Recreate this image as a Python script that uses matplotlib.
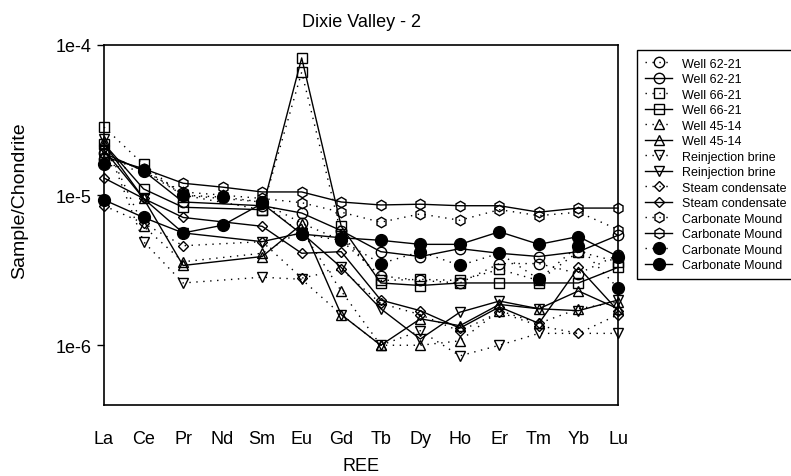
import numpy as np
import matplotlib
matplotlib.use("Agg")
import matplotlib.pyplot as plt
from matplotlib.ticker import FixedLocator, NullLocator

plt.rcParams['font.family'] = ['Liberation Sans', 'DejaVu Sans']

nan = np.nan
ree = ['La', 'Ce', 'Pr', 'Nd', 'Sm', 'Eu', 'Gd', 'Tb', 'Dy', 'Ho', 'Er', 'Tm', 'Yb', 'Lu']

w6221_dot = [1.75e-5, 1.5e-5, 1.0e-5, nan, 9.0e-6, 6.5e-6, 5.0e-6, 2.9e-6, 2.7e-6, 2.6e-6, 3.5e-6, 3.5e-6, 3.0e-6, 4.0e-6]
w6221_sol = [1.9e-5, 1.45e-5, 9.0e-6, nan, 8.5e-6, 7.6e-6, 5.8e-6, 4.2e-6, 3.9e-6, 4.4e-6, 4.1e-6, 3.9e-6, 4.2e-6, 5.4e-6]
w6621_dot = [2.84e-5, 1.6e-5, 1.0e-5, nan, 8.0e-6, 6.6e-5, 5.5e-6, 2.7e-6, 2.75e-6, 2.7e-6, 3.2e-6, 2.7e-6, 4.2e-6, 3.6e-6]
w6621_sol = [2.2e-5, 1.1e-5, 8.3e-6, nan, 8.0e-6, 8.2e-5, 6.2e-6, 2.6e-6, 2.5e-6, 2.6e-6, 2.6e-6, 2.6e-6, 2.6e-6, 3.3e-6]
w4514_dot = [2.3e-5, 6.2e-6, 3.6e-6, nan, 4.1e-6, 5.8e-6, 2.3e-6, 1.0e-6, 1.0e-6, 1.07e-6, 1.7e-6, 1.4e-6, 1.75e-6, 1.94e-6]
w4514_sol = [2.2e-5, 9.5e-6, 3.4e-6, nan, 3.9e-6, 6.4e-6, 1.6e-6, 1.0e-6, 1.5e-6, 1.35e-6, 1.87e-6, 1.75e-6, 2.3e-6, 1.75e-6]
brine_dot = [2.37e-5, 4.9e-6, 2.6e-6, nan, 2.84e-6, 2.75e-6, 1.6e-6, 1.0e-6, 1.25e-6, 8.5e-7, 1.0e-6, 1.2e-6, nan, 1.2e-6]
brine_sol = [2.0e-5, 9.5e-6, 5.6e-6, nan, 4.9e-6, 5.6e-6, 3.3e-6, 1.75e-6, 1.1e-6, 1.66e-6, 1.97e-6, 1.75e-6, 1.7e-6, 2.0e-6]
steam_dot = [8.5e-6, 6.5e-6, 4.6e-6, nan, 4.9e-6, 2.8e-6, 3.2e-6, 1.9e-6, 1.6e-6, 1.24e-6, 1.66e-6, 1.35e-6, 1.2e-6, 1.6e-6]
steam_sol = [1.3e-5, 9.5e-6, 7.1e-6, nan, 6.2e-6, 4.1e-6, 4.2e-6, 2.0e-6, 1.7e-6, 1.3e-6, 1.8e-6, 1.4e-6, 3.3e-6, 1.7e-6]
cmh_dot = [1.9e-5, 1.45e-5, 1.05e-5, 1.0e-5, 9.5e-6, 8.9e-6, 7.7e-6, 6.6e-6, 7.5e-6, 6.8e-6, 8.0e-6, 7.3e-6, 7.7e-6, 5.9e-6]
cmh_sol = [1.8e-5, 1.5e-5, 1.2e-5, 1.13e-5, 1.05e-5, 1.05e-5, 9.0e-6, 8.6e-6, 8.7e-6, 8.5e-6, 8.5e-6, 7.7e-6, 8.2e-6, 8.2e-6]
cmf_dot = [1.6e-5, 1.45e-5, 1.0e-5, 9.7e-6, 9.0e-6, 5.5e-6, 5.0e-6, 3.5e-6, 4.2e-6, 3.4e-6, 4.1e-6, 2.75e-6, 4.6e-6, 2.4e-6]
cmf_sol = [9.3e-6, 7.1e-6, 5.6e-6, 6.3e-6, 8.8e-6, 5.5e-6, 5.2e-6, 5.0e-6, 4.7e-6, 4.7e-6, 5.7e-6, 4.7e-6, 5.3e-6, 3.9e-6]

series = [
    ('Well 62-21', w6221_dot, 'o', True, False),
    ('Well 62-21', w6221_sol, 'o', False, False),
    ('Well 66-21', w6621_dot, 's', True, False),
    ('Well 66-21', w6621_sol, 's', False, False),
    ('Well 45-14', w4514_dot, '^', True, False),
    ('Well 45-14', w4514_sol, '^', False, False),
    ('Reinjection brine', brine_dot, 'v', True, False),
    ('Reinjection brine', brine_sol, 'v', False, False),
    ('Steam condensate', steam_dot, 'D', True, False),
    ('Steam condensate', steam_sol, 'D', False, False),
    ('Carbonate Mound', cmh_dot, 'h', True, False),
    ('Carbonate Mound', cmh_sol, 'h', False, False),
    ('Carbonate Mound', cmf_dot, 'o', True, True),
    ('Carbonate Mound', cmf_sol, 'o', False, True),
]

fig = plt.figure(figsize=(7.91, 4.77), dpi=100)
ax = fig.add_axes([104/791, 1-406/477, (618-104)/791, (406-46)/477])

x = np.arange(len(ree))
for name, vals, mk, dotted, filled in series:
    v = np.array(vals, dtype=float)
    ok = ~np.isnan(v)
    ls = (0, (1, 4)) if dotted else '-'
    ms = 5.5 if mk == 'D' else 7.5
    if filled:
        ms = 8.5
    ax.plot(x[ok], v[ok], linestyle=ls, color='black', lw=1,
            marker=mk, markersize=ms, markeredgecolor='black', markeredgewidth=1,
            markerfacecolor='black' if filled else 'none', label=name, clip_on=False)

ax.set_yscale('log')
ax.set_ylim(4e-7, 1e-4)
ax.set_xlim(0, 13)
ax.yaxis.set_major_locator(FixedLocator([1e-6, 1e-5, 1e-4]))
ax.yaxis.set_minor_locator(NullLocator())
ax.set_yticklabels(['1e-6', '1e-5', '1e-4'])
ax.set_xticks(x)
ax.set_xticklabels(ree)
ax.tick_params(axis='y', length=5, width=1, labelsize=13, pad=4)
ax.tick_params(axis='x', length=0, labelsize=13, pad=18)
for s in ax.spines.values():
    s.set_linewidth(1.2)

ax.set_xlabel('REE', fontsize=13, labelpad=7)
ax.set_ylabel('Sample/Chondrite', fontsize=14)
ax.yaxis.set_label_coords(-0.148, 0.57)
ax.set_title('Dixie Valley - 2', fontsize=13, pad=14)

leg = fig.legend(loc='upper left', bbox_to_anchor=(631/791, 1-45/477), fontsize=9,
                 frameon=True, fancybox=False, edgecolor='black', framealpha=1,
                 handlelength=2.2, labelspacing=0.28, borderpad=0.6, handletextpad=0.8)
leg.get_frame().set_linewidth(1)

fig.savefig('out.png', dpi=100)
